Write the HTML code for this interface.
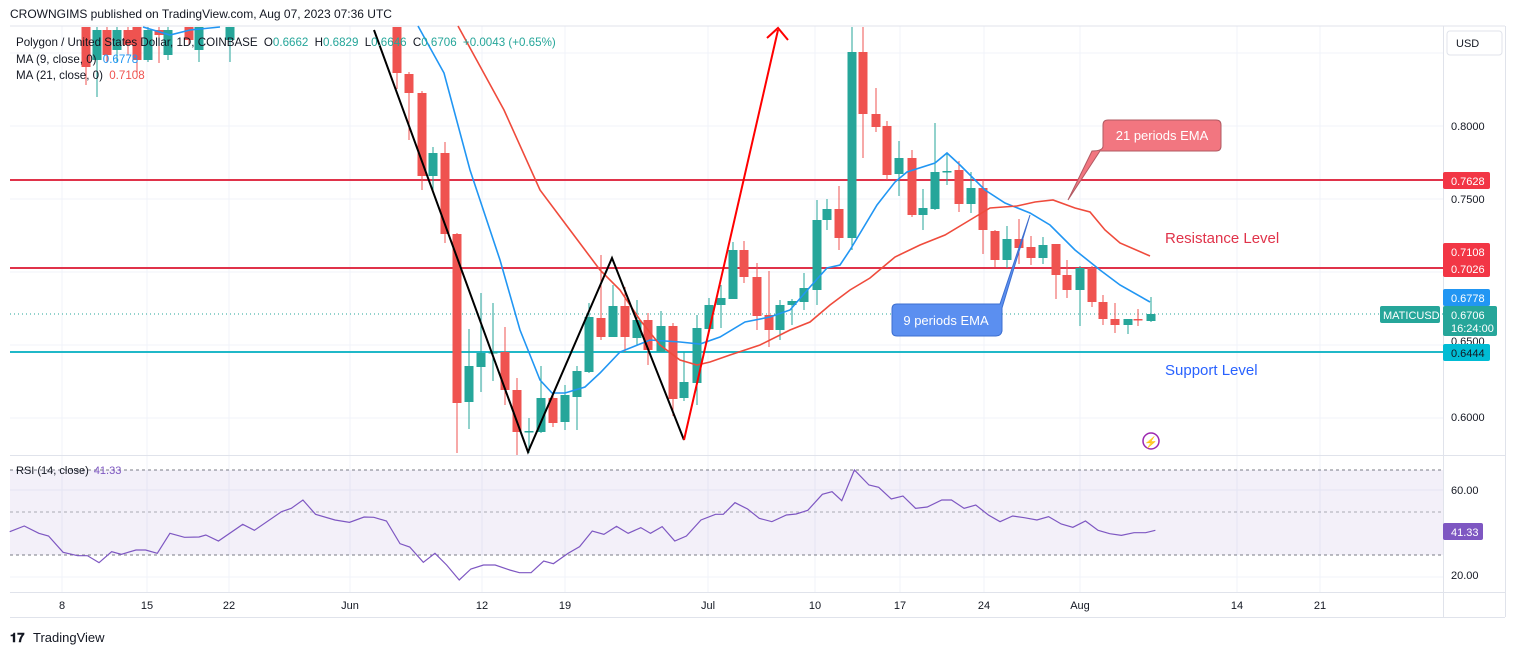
<!DOCTYPE html>
<html><head><meta charset="utf-8"><style>
body{margin:0;background:#fff;width:1515px;height:655px;overflow:hidden;font-family:"Liberation Sans",sans-serif}
svg{position:absolute;left:0;top:0}
</style></head><body>
<svg id="s" width="1515" height="655" xmlns="http://www.w3.org/2000/svg" font-family="Liberation Sans, sans-serif">
<rect width="1515" height="655" fill="#fff"/>
<text x="10" y="18" font-size="12" fill="#131722">CROWNGIMS published on TradingView.com, Aug 07, 2023 07:36 UTC</text>
<g id="grid" stroke="#f0f3fa" stroke-width="1"></g>
<rect x="10" y="470" width="1433" height="85" fill="#7e57c2" fill-opacity="0.09"/>
<g stroke="#787b86" stroke-dasharray="3,3" stroke-width="1">
<line x1="10" y1="470" x2="1443" y2="470"/><line x1="10" y1="512" x2="1443" y2="512" stroke-opacity="0.6"/><line x1="10" y1="555" x2="1443" y2="555"/>
</g>
<line x1="10" y1="26" x2="1505" y2="26" stroke="#e0e3eb"/>
<line x1="10" y1="455.5" x2="1505" y2="455.5" stroke="#e0e3eb"/>
<line x1="10" y1="592.5" x2="1505" y2="592.5" stroke="#e0e3eb"/>
<line x1="10" y1="617.5" x2="1505" y2="617.5" stroke="#e0e3eb"/>
<line x1="1443.5" y1="26" x2="1443.5" y2="617" stroke="#e0e3eb"/>
<line x1="1505.5" y1="26" x2="1505.5" y2="617" stroke="#e0e3eb"/>
<line x1="10" y1="180" x2="1443" y2="180" stroke="#e0334a" stroke-width="2"/>
<line x1="10" y1="268" x2="1443" y2="268" stroke="#e0334a" stroke-width="2"/>
<line x1="10" y1="352" x2="1443" y2="352" stroke="#20b8c8" stroke-width="2"/>
<line x1="10" y1="314" x2="1443" y2="314" stroke="#26a69a" stroke-width="1" stroke-dasharray="1,3"/>
<g id="candles"></g>
<polyline fill="none" stroke="#2196f3" stroke-width="1.6" points="143,27 170,35 190,30 220,27"/>
<polyline fill="none" stroke="#2196f3" stroke-width="1.6" points="418,26 444,73 470,170 500,260 520,330 540,380 552,393 565,393 585,387 600,373 620,352 650,340 680,342 700,344 720,337 745,322 770,317 790,310 810,287 827,268 840,265 850,250 877,205 895,182 907,172 935,163 947,153 960,165 985,190 1005,203 1030,213 1050,225 1075,250 1100,270 1120,285 1150,302"/>
<polyline fill="none" stroke="#ef4b3c" stroke-width="1.6" points="458,26 504,110 540,190 570,230 600,270 620,290 640,320 660,345 680,360 697,365 710,362 730,355 760,345 790,330 810,322 830,305 850,290 870,278 895,257 920,245 945,235 970,220 990,208 1017,206 1035,202 1053,200 1075,208 1090,212 1105,230 1120,243 1150,256"/>
<polyline fill="none" stroke="#000" stroke-width="2" points="374,30 528,452 612,258 684,440"/>
<line x1="684" y1="440" x2="778" y2="30" stroke="#f00" stroke-width="2"/>
<polyline fill="none" stroke="#f00" stroke-width="2" points="767,38 778,28 788,40"/>
<path d="M1108,120 H1216 Q1221,120 1221,125 V146 Q1221,151 1216,151 H1100 L1068,200 L1092,151 Q1103,151 1103,146 V125 Q1103,120 1108,120 Z" fill="#f27680" stroke="#b05a62" stroke-width="1"/>
<text x="1162" y="140" font-size="13" fill="#fff" text-anchor="middle">21 periods EMA</text>
<path d="M897,304 H1000 L1030,215 L1002,308 V331 Q1001,336 996,336 H897 Q892,336 892,331 V309 Q892,304 897,304 Z" fill="#5b8ff0" stroke="#3d6fd0" stroke-width="1"/>
<text x="946" y="325" font-size="13" fill="#fff" text-anchor="middle">9 periods EMA</text>
<text x="1165" y="243" font-size="15" fill="#e0334a">Resistance Level</text>
<text x="1165" y="375" font-size="15" fill="#2962ff">Support Level</text>
<circle cx="1151" cy="441" r="8" fill="none" stroke="#9c27b0" stroke-width="1.5"/>
<text x="1151" y="446" font-size="11" fill="#9c27b0" text-anchor="middle">⚡</text>
<text x="16" y="46" font-size="11.6" fill="#131722">Polygon / United States Dollar, 1D, COINBASE <tspan dx="3">O</tspan><tspan fill="#26a69a">0.6662</tspan> <tspan dx="3">H</tspan><tspan fill="#26a69a">0.6829</tspan> <tspan dx="3">L</tspan><tspan fill="#26a69a">0.6646</tspan> <tspan dx="3">C</tspan><tspan fill="#26a69a">0.6706</tspan> <tspan fill="#26a69a" dx="3">+0.0043 (+0.65%)</tspan></text>
<text x="16" y="63" font-size="11.6" fill="#131722">MA (9, close, 0) <tspan fill="#2196f3" dx="3">0.6778</tspan></text>
<text x="16" y="79" font-size="11.6" fill="#131722">MA (21, close, 0) <tspan fill="#ef5350" dx="3">0.7108</tspan></text>
<text x="16" y="474" font-size="11" fill="#131722">RSI (14, close) <tspan fill="#7e57c2" dx="2">41.33</tspan></text>
<g transform="translate(0,455) scale(0.9709,0.33333)">
<polyline fill="none" stroke="#7e57c2" stroke-width="1.2" vector-effect="non-scaling-stroke" points="10,230 25,213 40,235 50,243 65,292 80,302 90,302 102,323 115,290 125,298 140,285 150,285 162,295 175,235 190,247 205,246 212,240 225,258 250,208 262,226 290,170 300,160 312,135 325,178 345,195 360,202 375,186 385,187 398,198 412,266 422,276 436,322 448,295 460,330 473,375 485,342 498,330 510,330 525,345 535,353 547,353 560,318 570,326 585,295 597,275 610,228 622,238 635,214 647,235 660,218 670,235 682,215 695,258 707,243 722,195 737,178 745,178 757,143 770,162 782,190 795,200 810,180 820,177 832,166 847,118 857,110 867,137 880,45 895,90 905,97 918,132 930,123 943,160 955,156 970,135 980,135 993,160 1005,150 1018,180 1030,200 1043,183 1055,188 1068,195 1080,185 1093,207 1105,217 1118,198 1131,226 1143,236 1155,241 1168,233 1180,233 1190,226"/>
</g>
<rect x="1447" y="31" width="55" height="24" rx="3" fill="#fff" stroke="#e0e3eb"/>
<text x="1456" y="47" font-size="11" fill="#131722">USD</text>
<g font-size="11" fill="#131722">
<text x="1451" y="130">0.8000</text><text x="1451" y="203">0.7500</text><text x="1451" y="345">0.6500</text><text x="1451" y="421">0.6000</text>
<text x="1451" y="494">60.00</text><text x="1451" y="579">20.00</text>
</g>
<g font-size="11">
<rect x="1443" y="172" width="47" height="17" rx="2" fill="#f23645"/><text x="1451" y="185" fill="#fff">0.7628</text>
<rect x="1443" y="243" width="47" height="34" rx="2" fill="#f23645"/><text x="1451" y="256" fill="#fff">0.7108</text><text x="1451" y="273" fill="#fff">0.7026</text>
<rect x="1443" y="289" width="47" height="17" rx="2" fill="#2196f3"/><text x="1451" y="302" fill="#fff">0.6778</text>
<rect x="1380" y="306" width="60" height="17" rx="2" fill="#26a69a"/><text x="1383" y="319" fill="#fff">MATICUSD</text>
<rect x="1443" y="306" width="54" height="30" rx="2" fill="#26a69a"/><text x="1451" y="319" fill="#fff">0.6706</text><text x="1451" y="332" fill="#fff">16:24:00</text>
<rect x="1443" y="344" width="47" height="17" rx="2" fill="#00bcd4"/><text x="1451" y="357" fill="#131722">0.6444</text>
<rect x="1443" y="523" width="40" height="17" rx="2" fill="#7e57c2"/><text x="1451" y="536" fill="#fff">41.33</text>
</g>
<g font-size="11" fill="#131722" text-anchor="middle">
<text x="62" y="609">8</text><text x="147" y="609">15</text><text x="229" y="609">22</text><text x="350" y="609">Jun</text><text x="482" y="609">12</text><text x="565" y="609">19</text><text x="708" y="609">Jul</text><text x="815" y="609">10</text><text x="900" y="609">17</text><text x="984" y="609">24</text><text x="1080" y="609">Aug</text><text x="1237" y="609">14</text><text x="1320" y="609">21</text>
</g>
<text x="10" y="642" font-size="13" font-weight="bold" fill="#131722">𝟏𝟕</text>
<text x="33" y="642" font-size="13" fill="#131722">TradingView</text>
</svg>
<script>
var NS="http://www.w3.org/2000/svg",s=document.getElementById('s');
function el(p,t,a){var e=document.createElementNS(NS,t);for(var k in a)e.setAttribute(k,a[k]);p.appendChild(e);return e;}
var g=document.getElementById('grid');
[62,147,229,350,482,565,708,815,900,984,1080,1237,1320].forEach(function(x){el(g,'line',{x1:x,y1:26,x2:x,y2:592});});
[53,126,199,272,345,418,490,577].forEach(function(y){el(g,'line',{x1:10,y1:y,x2:1443,y2:y});});
var C=[[86,27,67,27,85],[97,60,30,27,97],[107,30,55,27,62],[117,50,30,27,62],[128,30,45,27,55],[137,27,60,27,73],[148,60,30,27,62],[159,30,35,27,63],[168,55,30,27,60],[189,27,40,27,45],[199,50,27,27,62],[230,40,27,27,62],
[397,27,73,27,89],[409,74,93,72,140],[422,93,176,91,190],[433,176,153,147,190],[445,153,234,142,243],[457,234,403,233,453],[469,402,366,329,429],[481,367,353,293,392],[493,353,352,303,381],[505,352,390,327,405],[517,390,432,378,455],[529,432,431,418,453],[541,432,398,366,433],[553,398,423,395,427],[565,422,395,385,430],
[577,397,371,366,430],[589,372,317,303,373],[601,318,337,255,340],[613,337,306,285,337],[625,306,337,287,352],[637,338,320,300,345],[648,320,350,313,365],[661,352,326,311,352],[673,326,399,323,416],[684,398,382,352,401],[697,383,328,315,405],[709,329,305,298,330],[721,305,298,285,328],[733,299,250,242,299],[744,250,277,241,283],[757,277,316,263,330],[769,315,330,271,347],[780,330,305,300,340],[792,305,301,299,325],[804,302,288,273,310],
[817,290,220,200,305],[827,220,209,199,230],[839,209,238,186,250],[852,238,52,27,250],[863,52,114,27,158],[876,114,127,88,132],[887,126,175,121,180],[899,174,158,141,196],[912,158,215,150,217],[923,215,208,189,230],[935,209,172,123,210],[947,172,171,153,185],[959,170,204,161,212],[971,204,188,172,213],[983,188,230,180,254],[995,231,260,230,267],[1007,260,239,226,268],[1019,239,248,219,264],[1031,247,258,236,265],[1043,258,245,237,264],[1056,244,275,244,299],[1067,275,290,260,298],[1080,290,268,266,326],[1092,268,302,266,307],[1103,302,319,295,325],[1115,319,325,303,333],[1128,325,319,319,334],[1138,319,320,309,326],[1151,321,314,297,322]];
var cg=document.getElementById('candles');
C.forEach(function(c){var up=c[2]<c[1],col=up?'#26a69a':'#ef5350';
el(cg,'line',{x1:c[0],y1:c[3],x2:c[0],y2:c[4],stroke:col,'stroke-width':1});
var t=Math.min(c[1],c[2]),h=Math.max(1.5,Math.abs(c[1]-c[2]));
el(cg,'rect',{x:c[0]-4.5,y:t,width:9,height:h,fill:col});});
</script>
</body></html>
